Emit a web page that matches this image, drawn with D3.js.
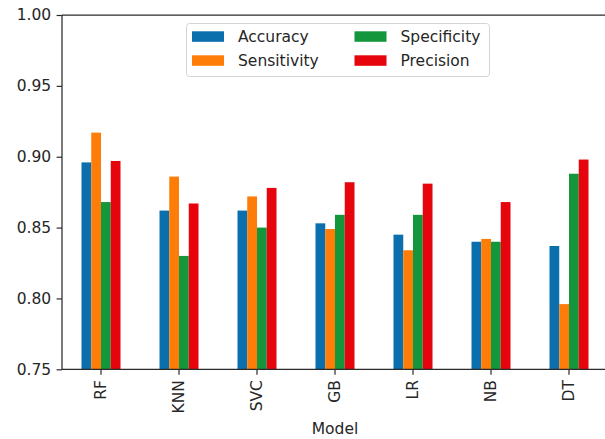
<!DOCTYPE html>
<html>
<head>
<meta charset="utf-8">
<script src="https://cdn.jsdelivr.net/npm/d3@7"></script>
<style>
  html, body { margin: 0; padding: 0; background: #fff; }
  svg { display: block; font-family: "DejaVu Sans", sans-serif; }
</style>
</head>
<body>
<svg id="chart" width="605" height="439"></svg>
<script>
// Models compared
const models = ["RF", "KNN", "SVC", "GB", "LR", "NB", "DT"];

// Metric series, one value per model
const accuracy    = [0.896, 0.862, 0.862, 0.853, 0.845, 0.840, 0.837];
const sensitivity = [0.917, 0.886, 0.872, 0.849, 0.834, 0.842, 0.796];
const specificity = [0.868, 0.830, 0.850, 0.859, 0.859, 0.840, 0.888];
const precision   = [0.897, 0.867, 0.878, 0.882, 0.881, 0.868, 0.898];

const seriesNames  = ["Accuracy", "Sensitivity", "Specificity", "Precision"];
const seriesValues = [accuracy, sensitivity, specificity, precision];
const seriesColors = ["#0b6fae", "#fd7d08", "#14963c", "#e6050d"];

const yTicks = [0.75, 0.80, 0.85, 0.90, 0.95, 1.00];

const svg = d3.select("#chart");
const plotLeft = 62, plotRight = 608, plotTop = 15, plotBottom = 369.3;

const x = d3.scaleBand().domain(models).range([plotLeft, plotRight])
  .paddingInner(0.5).paddingOuter(0.25);
const xs = d3.scaleBand().domain(seriesNames).range([0, x.bandwidth()]).padding(0);
const y = d3.scaleLinear().domain([0.75, 1.00]).range([plotBottom, plotTop]);

// Bars
const groups = svg.append("g").selectAll("g")
  .data(seriesNames)
  .join("g")
  .attr("fill", (d, i) => seriesColors[i]);

groups.selectAll("rect")
  .data((name, si) => models.map((m, mi) => ({ m, v: seriesValues[si][mi], s: name })))
  .join("rect")
  .attr("x", d => x(d.m) + xs(d.s))
  .attr("width", xs.bandwidth())
  .attr("y", d => y(d.v))
  .attr("height", d => y(0.75) - y(d.v));

// Axes
const fontSize = "15.5px";
const yAxis = svg.append("g")
  .attr("transform", `translate(${plotLeft},0)`)
  .call(d3.axisLeft(y).tickValues(yTicks).tickFormat(d3.format(".2f"))
    .tickSize(5.4).tickPadding(5.4));

const xAxis = svg.append("g")
  .attr("transform", `translate(0,${plotBottom})`)
  .call(d3.axisBottom(x).tickSize(5.4).tickPadding(5.4));

[yAxis, xAxis].forEach(a => {
  a.select(".domain").remove();
  a.selectAll(".tick line").attr("stroke", "#2a2a2a").attr("stroke-width", 1.2);
  a.selectAll(".tick text").attr("fill", "#262626")
    .style("font-size", fontSize).style("font-family", "DejaVu Sans, sans-serif");
});

xAxis.selectAll(".tick text")
  .attr("transform", "rotate(-90)")
  .attr("x", -10.8)
  .attr("y", 0)
  .attr("dy", "0.35em")
  .attr("text-anchor", "end");

// Spines: left, bottom, top, right
const spine = svg.append("g").attr("stroke", "#2a2a2a").attr("stroke-width", 1.25)
  .attr("fill", "none");
spine.append("line").attr("x1", plotLeft).attr("x2", plotLeft).attr("y1", plotTop).attr("y2", plotBottom);
spine.append("line").attr("x1", plotLeft).attr("x2", plotRight).attr("y1", plotBottom).attr("y2", plotBottom);
spine.append("line").attr("x1", plotLeft).attr("x2", plotRight).attr("y1", plotTop).attr("y2", plotTop);
spine.append("line").attr("x1", plotRight).attr("x2", plotRight).attr("y1", plotTop).attr("y2", plotBottom);

// Axis title
svg.append("text")
  .attr("x", (plotLeft + plotRight) / 2)
  .attr("y", 434)
  .attr("text-anchor", "middle")
  .attr("fill", "#262626")
  .style("font-size", fontSize)
  .text("Model");

// Legend
const legend = svg.append("g");
legend.append("rect")
  .attr("x", 186.5).attr("y", 23.5)
  .attr("width", 303).attr("height", 53)
  .attr("rx", 3)
  .attr("fill", "#fff").attr("fill-opacity", 0.8)
  .attr("stroke", "#d4d4d4").attr("stroke-width", 1);

const legendPos = [
  { hx: 192, ty: 36.5 },
  { hx: 192, ty: 60.5 },
  { hx: 354.5, ty: 36.5 },
  { hx: 354.5, ty: 60.5 }
];

const items = legend.selectAll("g.item")
  .data(seriesNames)
  .join("g")
  .attr("class", "item")
  .attr("transform", (d, i) => `translate(${legendPos[i].hx},${legendPos[i].ty})`);

items.append("rect")
  .attr("x", 0).attr("y", -5.2)
  .attr("width", 32).attr("height", 10.5)
  .attr("fill", (d, i) => seriesColors[i]);

items.append("text")
  .attr("x", 46)
  .attr("y", 0)
  .attr("dy", "0.36em")
  .attr("fill", "#262626")
  .style("font-size", fontSize)
  .text(d => d);
</script>
</body>
</html>
